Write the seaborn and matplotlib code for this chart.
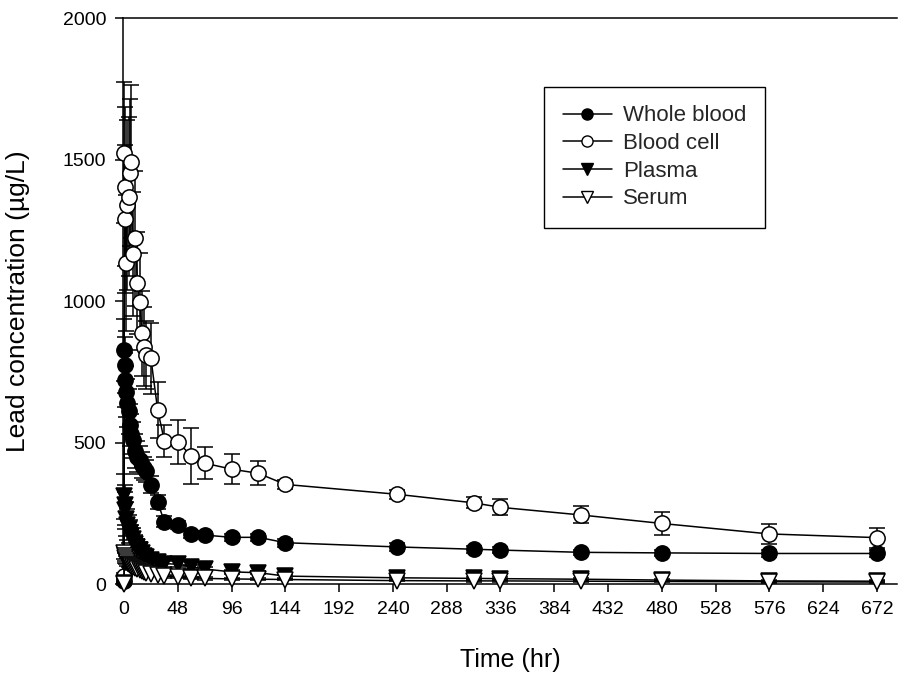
import numpy as np
import pandas as pd
import matplotlib
matplotlib.use("Agg")
import matplotlib.pyplot as plt
from matplotlib.lines import Line2D
import seaborn as sns

time_hr = [0, 0.25, 0.5, 1, 2, 3, 4, 5, 6, 8, 10, 12, 14, 16, 18, 20, 24, 30, 36,
           48, 60, 72, 96, 120, 144, 244, 312, 336, 408, 480, 576, 672]

whole_blood = [10, 827, 774, 720, 680, 640, 610, 562, 530, 509, 470, 450, 438, 420, 409, 400,
               350, 289, 220, 208, 176, 173, 165, 165, 146, 131, 123, 120, 112, 110, 108, 108]
whole_blood_err = [5, 110, 100, 95, 90, 85, 80, 75, 70, 65, 60, 55, 50, 45, 40, 38,
                   30, 25, 20, 15, 12, 12, 12, 12, 14, 14, 12, 12, 10, 10, 12, 14]

blood_cell = [30, 1524, 1404, 1290, 1133, 1339, 1369, 1454, 1492, 1166, 1221, 1065, 998, 886,
              839, 809, 797, 615, 506, 503, 452, 427, 406, 391, 352, 317, 287, 271, 244, 214,
              177, 164]
blood_cell_err = [10, 250, 280, 260, 240, 300, 280, 260, 270, 220, 240, 180, 170, 150,
                  140, 120, 125, 100, 56, 78, 99, 56, 53, 42, 15, 15, 20, 28, 30, 42, 35, 35]

plasma = [5, 310, 280, 260, 230, 210, 195, 180, 170, 160, 140, 130, 120, 110, 100, 95,
          85, 78, 72, 70, 61, 53, 43, 40, 28, 22, 20, 19, 17, 14, 11, 10]
plasma_err = [3, 80, 70, 65, 60, 55, 50, 45, 40, 38, 35, 30, 28, 25, 22, 20,
              18, 15, 12, 10, 8, 8, 6, 6, 5, 5, 5, 5, 4, 4, 4, 4]

serum = [0, 110, 100, 92, 85, 78, 72, 68, 64, 60, 56, 52, 48, 45, 42, 40,
         36, 32, 28, 25, 22, 20, 18, 17, 16, 12, 11, 11, 10, 9, 8, 7]
serum_err = [2, 20, 18, 16, 15, 14, 13, 12, 11, 10, 9, 8, 8, 7, 7, 6,
             6, 5, 5, 4, 4, 4, 3, 3, 3, 3, 3, 3, 3, 3, 3, 3]

series_names = ["Whole blood", "Blood cell", "Plasma", "Serum"]
x_ticks = [0, 48, 96, 144, 192, 240, 288, 336, 384, 432, 480, 528, 576, 624, 672]
y_ticks = [0, 500, 1000, 1500, 2000]

sns.set_theme(style="ticks")
plt.rcParams['font.family'] = ['Liberation Sans', 'DejaVu Sans']

fig = plt.figure(figsize=(8.98, 6.78), dpi=100)
ax = fig.add_axes([0.1369, 0.1386, 0.862, 0.8348])

styles = {
    "Whole blood": dict(marker="o", mfc="black"),
    "Blood cell": dict(marker="o", mfc="white"),
    "Plasma": dict(marker="v", mfc="black"),
    "Serum": dict(marker="v", mfc="white"),
}
data = {
    "Whole blood": (whole_blood, whole_blood_err),
    "Blood cell": (blood_cell, blood_cell_err),
    "Plasma": (plasma, plasma_err),
    "Serum": (serum, serum_err),
}

z = 3
for name in series_names:
    vals, errs = data[name]
    df = pd.DataFrame({"t": time_hr, "v": vals})
    st = styles[name]
    ax.errorbar(time_hr, vals, yerr=errs, fmt="none", ecolor="black",
                elinewidth=1.1, capsize=5.5, capthick=1.1, zorder=z, clip_on=False)
    ms = 11 if st["marker"] == "o" else 12
    sns.lineplot(data=df, x="t", y="v", ax=ax, color="black", linewidth=1.1,
                 marker=st["marker"], markersize=ms, markerfacecolor=st["mfc"],
                 markeredgecolor="black", markeredgewidth=1.1, zorder=z + 1,
                 clip_on=False, legend=False)
    z += 2

ax.set_xlim(-1, 690)
ax.set_ylim(0, 2000)
ax.set_xticks(x_ticks)
ax.set_yticks(y_ticks)
ax.tick_params(axis="both", direction="out", length=6, width=1.1, labelsize=14,
               color="black", labelcolor="black", pad=6)
ax.tick_params(top=False, right=False)
for s in ["left", "bottom", "top"]:
    ax.spines[s].set_color("black")
    ax.spines[s].set_linewidth(1.1)
ax.spines["right"].set_visible(False)

ax.set_xlabel("Time (hr)", fontsize=18, color="black")
ax.set_ylabel("Lead concentration (\u00b5g/L)", fontsize=19, color="black")
ax.xaxis.set_label_coords(0.5, -0.134)
ax.xaxis.label.set_va("center")
ax.yaxis.set_label_coords(-0.1355, 0.5)
ax.yaxis.label.set_va("center")

handles = []
for name in series_names:
    st = styles[name]
    handles.append(Line2D([0], [0], color="black", linewidth=1.1, marker=st["marker"],
                          markersize=8, markerfacecolor=st["mfc"],
                          markeredgecolor="black", markeredgewidth=1.0))
leg = ax.legend(handles, series_names, loc="upper left",
                bbox_to_anchor=(0.544, 0.879), fontsize=16, frameon=True,
                fancybox=False, edgecolor="black", framealpha=1,
                handlelength=2.2, handletextpad=0.5, labelspacing=0.3,
                borderpad=0.85, borderaxespad=0)
leg.get_frame().set_linewidth(1.0)

fig.savefig("out.png", dpi=100)
